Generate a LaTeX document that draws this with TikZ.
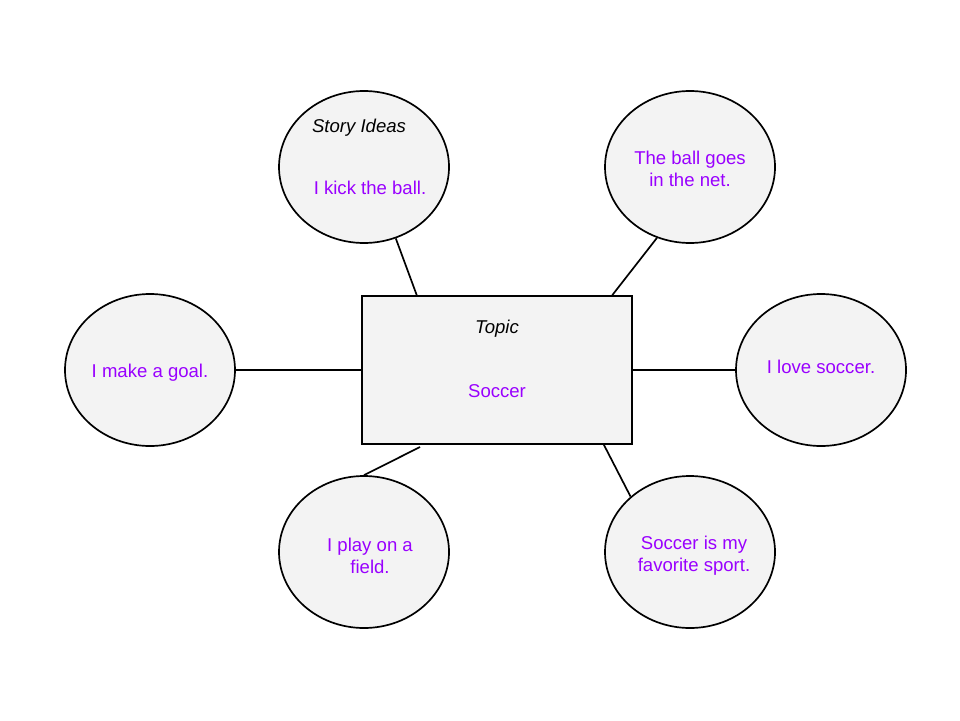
\documentclass[tikz,border=0pt]{standalone}
\usepackage{fontspec}
\setmainfont{Liberation Sans}
\usepackage{xcolor}
\usepackage{tikz}
\usetikzlibrary{shapes.geometric}

\definecolor{bubble}{HTML}{F3F3F3}
\definecolor{idea}{HTML}{9900FF}

\begin{document}
\begin{tikzpicture}[
  bubble/.style={ellipse, draw=black, fill=bubble, line width=1.2pt,
    minimum width=4.25cm, minimum height=3.8cm, inner sep=0pt},
  topicbox/.style={rectangle, draw=black, fill=bubble, line width=1.2pt,
    minimum width=6.75cm, minimum height=3.7cm, inner sep=0pt},
  idea/.style={text=idea, align=center, font=\fontsize{13.2}{15.6}\selectfont},
  head/.style={text=black, font=\fontsize{13.2}{15.6}\selectfont\itshape},
  link/.style={line width=1.2pt, draw=black}
]

\useasboundingbox (0,0) rectangle (24,18);

\node[topicbox] (topic) at (12.425, 8.75) {};
\node[bubble] (story) at (9.1, 13.825) {};
\node[bubble] (net) at (17.25, 13.825) {};
\node[bubble] (goal) at (3.75, 8.75) {};
\node[bubble] (love) at (20.525, 8.75) {};
\node[bubble] (field) at (9.1, 4.2) {};
\node[bubble] (sport) at (17.25, 4.2) {};

\node[head] (topichead) at (12.425, 9.775) {Topic};
\node[idea] (topictext) at (12.425, 8.225) {Soccer};
\node[head] (storyhead) at (8.975, 14.8) {Story Ideas};
\node[idea] (storytext) at (9.25, 13.3) {I kick the ball.};
\node[idea] (nettext) at (17.25, 13.775) {The ball goes\\in the net.};
\node[idea] (goaltext) at (3.75, 8.675) {I make a goal.};
\node[idea] (lovetext) at (20.525, 8.825) {I love soccer.};
\node[idea] (fieldtext) at (9.25, 4.1) {I play on a\\field.};
\node[idea] (sporttext) at (17.35, 4.1) {Soccer is my\\favorite sport.};

\coordinate (fieldtip) at (10.5, 6.825);

\draw[link] (story.-66) -- (topic.137.6);
\draw[link] (net.245) -- (topic.33.2);
\draw[link] (goal.east) -- (topic.west);
\draw[link] (topic.east) -- (love.west);
\draw[link] (fieldtip) -- (field.north);
\draw[link] (topic.-35.7) -- (sport.137.5);

\end{tikzpicture}
\end{document}
